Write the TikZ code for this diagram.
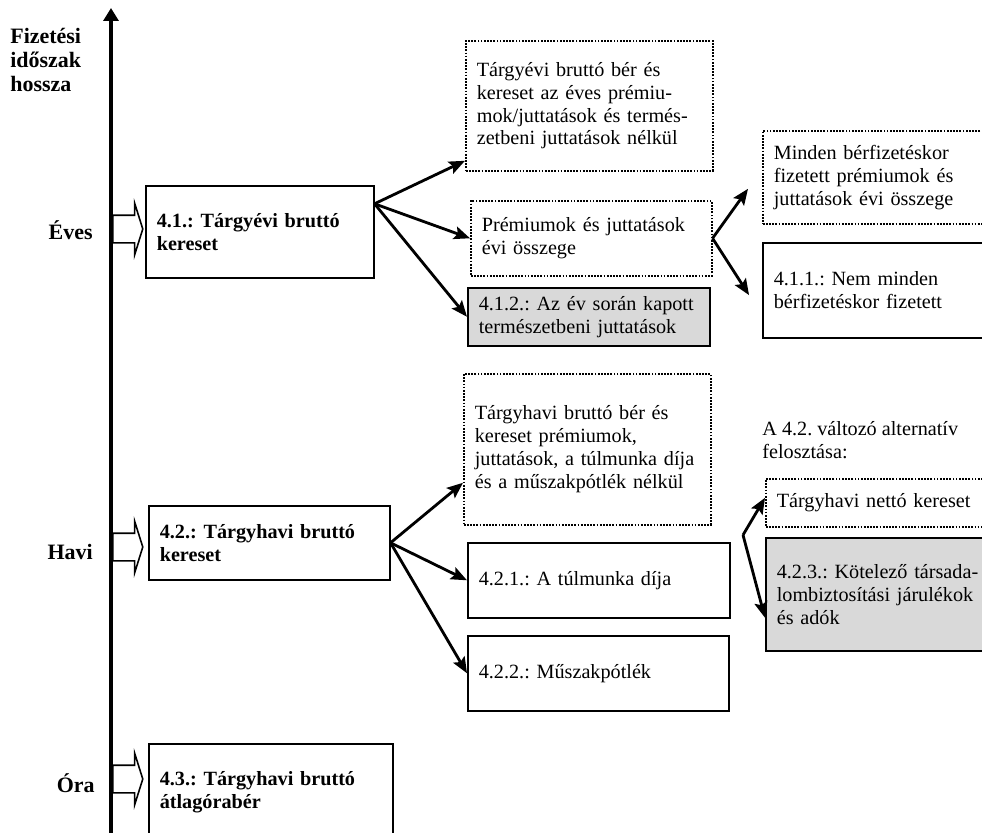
\documentclass[tikz,border=0pt]{standalone}
\usepackage{fontspec}
\setmainfont{Liberation Serif}
\usetikzlibrary{arrows.meta, shapes.arrows}

\newcommand{\boxfont}{\fontsize{11.5}{13}\selectfont\frenchspacing}
\newcommand{\headfont}{\fontsize{11.5}{13}\selectfont\bfseries\frenchspacing}
\newcommand{\sidefont}{\fontsize{12.5}{13.5}\selectfont\bfseries}

\begin{document}
\begin{tikzpicture}[x=0.02cm,y=-0.02cm,>={Stealth[length=0.32cm,width=0.26cm,inset=0.06cm]},font=\boxfont]
  \tikzstyle{box}=[draw=black,line width=0.9pt,anchor=north west,inner xsep=0.22cm,inner ysep=0pt,align=left]
  \tikzstyle{dotbox}=[box,dash pattern=on 1pt off 0.8pt]
  \tikzstyle{greybox}=[box,fill=black!15]
  \tikzstyle{level}=[single arrow,draw=black,fill=white,line width=0.9pt,anchor=tail,inner sep=0pt,
                     text height=0.26cm,text depth=0.26cm,minimum height=0.6cm,minimum width=1cm,
                     single arrow head extend=0.24cm,single arrow tip angle=145]
  \tikzstyle{link}=[->,line width=1.6pt]

  \path[use as bounding box,clip] (0,0) rectangle (982,832);

  % time axis
  \coordinate (axbot) at (111,845);
  \coordinate (axtop) at (111,8);
  \draw[line width=2.2pt,-{Triangle[length=0.26cm,width=0.3cm]}] (axbot) -- (axtop);

  \node[anchor=north west,align=left,inner sep=0pt,font=\sidefont] (title) at (10,28) {Fizetési\\időszak\\hossza};
  \node[anchor=east,inner sep=0pt,font=\sidefont] (eves) at (93,230) {Éves};
  \node[anchor=east,inner sep=0pt,font=\sidefont] (havi) at (93,552) {Havi};
  \node[anchor=east,inner sep=0pt,font=\sidefont] (ora) at (95,783) {Óra};

  \node[level] (yarr) at (112,229) {};
  \node[level] (harr) at (112,547) {};
  \node[level] (oarr) at (112,779) {};

  % annual
  \node[box, font=\headfont, text width=4.12cm, minimum width=4.56cm, minimum height=1.84cm] (e41) at (145,185) {4.1.: Tárgyévi bruttó\\kereset};
  \node[dotbox, text width=4.5cm, minimum width=4.94cm, minimum height=2.6cm] (brA) at (465,40) {Tárgyévi bruttó bér és\\kereset az éves prémiu-\\mok/juttatások és termés-\\zetbeni juttatások nélkül};
  \node[dotbox, text width=4.38cm, minimum width=4.82cm, minimum height=1.5cm] (prem) at (470,200) {Prémiumok és juttatások\\évi összege};
  \node[greybox, text width=4.4cm, minimum width=4.84cm, minimum height=1.16cm] (e412) at (467,287) {4.1.2.: Az év során kapott\\természetbeni juttatások};
  \node[dotbox, text width=4.22cm, minimum width=4.66cm, minimum height=1.86cm] (mind) at (762,130) {Minden bérfizetéskor\\fizetett prémiumok és\\juttatások évi összege};
  \node[box, text width=4.22cm, minimum width=4.66cm, minimum height=1.9cm] (e411) at (762,242) {4.1.1.: Nem minden\\bérfizetéskor fizetett};

  % monthly
  \node[box, font=\headfont, text width=4.38cm, minimum width=4.82cm, minimum height=1.48cm] (e42) at (148,505) {4.2.: Tárgyhavi bruttó\\kereset};
  \node[dotbox, text width=4.5cm, minimum width=4.94cm, minimum height=3.02cm] (brB) at (463,373) {Tárgyhavi bruttó bér és\\kereset prémiumok,\\juttatások, a túlmunka díja\\és a műszakpótlék nélkül};
  \node[box, text width=4.8cm, minimum width=5.24cm, minimum height=1.5cm] (e421) at (467,542) {4.2.1.: A túlmunka díja};
  \node[box, text width=4.78cm, minimum width=5.22cm, minimum height=1.5cm] (e422) at (467,635) {4.2.2.: Műszakpótlék};
  \node[anchor=north west,align=left,inner sep=0pt] (altnote) at (762,421) {A 4.2. változó alternatív\\felosztása:};
  \coordinate (alt) at (743,535);
  \node[dotbox, text width=4.16cm, minimum width=4.6cm, minimum height=0.96cm] (net) at (765,478) {Tárgyhavi nettó kereset};
  \node[greybox, text width=4.16cm, minimum width=4.6cm, minimum height=2.26cm] (e423) at (765,537) {4.2.3.: Kötelező társada-\\lombiztosítási járulékok\\és adók};

  % hourly
  \node[box, font=\headfont, text width=4.44cm, minimum width=4.88cm, minimum height=1.94cm] (e43) at (148,743) {4.3.: Tárgyhavi bruttó\\átlagórabér};

  \path[link] ([yshift=0.56cm]e41.east) edge ([yshift=-1.1cm]brA.west)
        ([yshift=0.56cm]e41.east) edge (prem.west)
        ([yshift=0.56cm]e41.east) edge (e412.west)
        (prem.east) edge[shorten >=0.48cm] ([yshift=0.16cm]mind.west)
        (prem.east) edge[shorten >=0.48cm] ([yshift=-0.5cm]e411.west)
        (e42.east) edge ([yshift=-0.67cm]brB.west)
        (e42.east) edge (e421.west)
        (e42.east) edge (e422.west)
        (alt) edge ([yshift=0.1cm]net.west)
        (alt) edge ([yshift=-0.47cm]e423.west);
\end{tikzpicture}
\end{document}
